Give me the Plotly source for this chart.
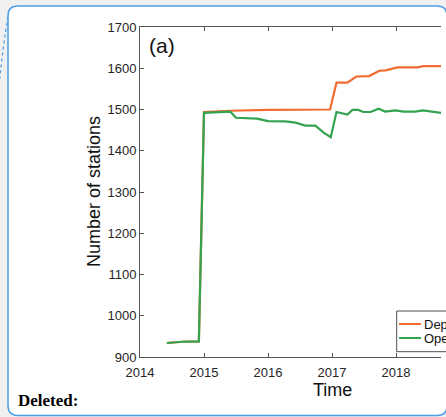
import plotly.graph_objects as go

# ---- data ----
deployed_t = [2014.42, 2014.66, 2014.92, 2015.0, 2015.4, 2016.0, 2016.97, 2017.07,
              2017.24, 2017.38, 2017.58, 2017.74, 2017.84, 2018.02, 2018.33, 2018.43, 2018.75]
deployed_n = [934, 937, 938, 1494, 1497, 1499, 1500, 1565,
              1565, 1580, 1581, 1594, 1595, 1602, 1602, 1605, 1605]

operational_t = [2014.42, 2014.66, 2014.92, 2015.0, 2015.41, 2015.50, 2015.83, 2016.0,
                 2016.27, 2016.43, 2016.58, 2016.74, 2016.87, 2016.98, 2017.07, 2017.24,
                 2017.32, 2017.41, 2017.49, 2017.60, 2017.73, 2017.83, 2017.99, 2018.12,
                 2018.30, 2018.42, 2018.75]
operational_n = [934, 937, 938, 1492, 1495, 1480, 1478, 1472,
                 1471, 1468, 1461, 1461, 1444, 1433, 1494, 1488,
                 1499, 1499, 1494, 1494, 1502, 1495, 1498, 1495,
                 1495, 1498, 1491]

series_names = ["Deployed", "Operational"]
series_colors = ["#F26B30", "#33A350"]
x_ticks = [2014, 2015, 2016, 2017, 2018]
y_ticks = [900, 1000, 1100, 1200, 1300, 1400, 1500, 1600, 1700]

# ---- layout geometry (pixels) ----
W, H = 446, 417
L, R, T, B = 140, 441, 27, 357


def px(x):
    return (x - L) / (R - L)


def py(y):
    return (B - y) / (B - T)


BLUE = "#4A9FE6"
FONT = "Liberation Sans, Arial, Helvetica, sans-serif"

fig = go.Figure()
fig.add_trace(go.Scatter(x=deployed_t, y=deployed_n, mode="lines", name=series_names[0],
                         line=dict(color=series_colors[0], width=2.2), showlegend=False))
fig.add_trace(go.Scatter(x=operational_t, y=operational_n, mode="lines", name=series_names[1],
                         line=dict(color=series_colors[1], width=2.2), showlegend=False))

# rounded document box
x0, y0, x1, y1, r = 8, 6, 447, 415.5, 10
box = (f"M {px(x0+r)} {py(y0)} L {px(x1-r)} {py(y0)} "
       f"Q {px(x1)} {py(y0)} {px(x1)} {py(y0+r)} "
       f"L {px(x1)} {py(y1-r)} Q {px(x1)} {py(y1)} {px(x1-r)} {py(y1)} "
       f"L {px(x0+r)} {py(y1)} Q {px(x0)} {py(y1)} {px(x0)} {py(y1-r)} "
       f"L {px(x0)} {py(y0+r)} Q {px(x0)} {py(y0)} {px(x0+r)} {py(y0)} Z")
shapes = [
    dict(type="path", xref="paper", yref="paper", path=box, layer="below",
         fillcolor="white", line=dict(color=BLUE, width=1.5)),
    dict(type="path", xref="paper", yref="paper",
         path=f"M {px(8)} {py(17)} Q {px(3)} {py(45)} {px(-1)} {py(86)}",
         line=dict(color=BLUE, width=1.2, dash="dot"), layer="above"),
    # legend box
    dict(type="rect", xref="paper", yref="paper", x0=px(396.7), x1=px(480),
         y0=py(351.7), y1=py(311), line=dict(color="#222222", width=0.8),
         fillcolor="white", layer="above"),
]
leg_y = [324, 338]
for yy, c in zip(leg_y, series_colors):
    shapes.append(dict(type="line", xref="paper", yref="paper", x0=px(399), x1=px(421),
                       y0=py(yy), y1=py(yy), line=dict(color=c, width=2), layer="above"))

annotations = [
    dict(text="(a)", xref="paper", yref="paper", x=px(147), y=py(45), xanchor="left",
         yanchor="middle", showarrow=False, font=dict(size=21, color="#111", family=FONT)),
    dict(text="Time", xref="x", yref="paper", x=2017, y=py(390), xanchor="center",
         yanchor="middle", showarrow=False, font=dict(size=18, color="#111", family=FONT)),
    dict(text="Number of stations", xref="paper", yref="paper", x=px(94), y=py(192),
         textangle=-90, xanchor="center", yanchor="middle", showarrow=False,
         font=dict(size=18, color="#111", family=FONT)),
    dict(text="<b>Deleted:</b>", xref="paper", yref="paper", x=px(16), y=py(400),
         xanchor="left", yanchor="middle", showarrow=False,
         font=dict(size=17, color="#000", family="Liberation Serif, Times New Roman, serif")),
]
for yy, name in zip(leg_y, series_names):
    annotations.append(dict(text=name, xref="paper", yref="paper", x=px(421.5), y=py(yy),
                            xanchor="left", yanchor="middle", showarrow=False,
                            font=dict(size=13, color="#111", family=FONT)))

axis_common = dict(showgrid=False, zeroline=False, showline=True, linecolor="#555555",
                   linewidth=1, ticks="inside", ticklen=4, tickcolor="#555555",
                   tickfont=dict(size=13, color="#262626", family=FONT))

fig.update_layout(
    width=W, height=H,
    margin=dict(l=L, r=W - R, t=T, b=H - B, pad=0, autoexpand=False),
    paper_bgcolor="#F0F0F0",
    plot_bgcolor="rgba(0,0,0,0)",
    xaxis=dict(range=[2014, 2014 + (R - L) / 64.0], tickvals=x_ticks, mirror="ticks",
               ticklabelstandoff=3, **axis_common),
    yaxis=dict(range=[900, 1700], tickvals=y_ticks, **axis_common),
    shapes=shapes,
    annotations=annotations,
    showlegend=False,
)

fig.write_html("out.html")
